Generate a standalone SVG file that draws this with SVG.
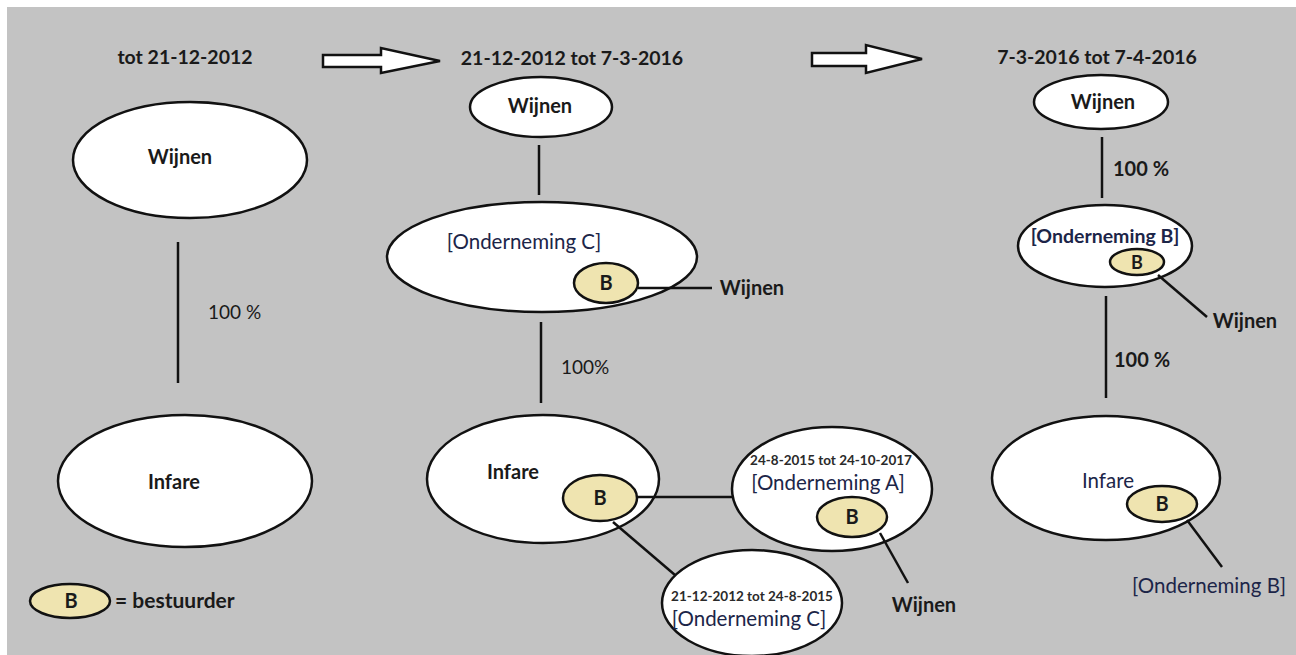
<svg xmlns="http://www.w3.org/2000/svg" width="1296" height="655" viewBox="0 0 1296 655">
<style>
  .bg { fill: #c3c3c3; }
  .node { fill: #ffffff; stroke: #111; stroke-width: 2.5; }
  .b { fill: #efe4b0; stroke: #111; stroke-width: 2.5; }
  .conn line { stroke: #111; stroke-width: 2.5; }
  text { font-family: Lato, "Liberation Sans", sans-serif; fill: #1a1a1a; }
  .t { font-size: 19.5px; font-weight: bold; text-anchor: middle; }
  .lbl { font-size: 20px; font-weight: bold; text-anchor: middle; }
  .reg { font-size: 19px; font-weight: normal; }
  .ond { font-size: 20.5px; fill: #1c2548; text-anchor: middle; }
  .sm { font-size: 13.5px; font-weight: bold; fill: #2a2a2a; text-anchor: middle; }
  .arrow { fill: #ffffff; stroke: #111; stroke-width: 2.5; stroke-linejoin: miter; }
</style>
<rect x="0" y="0" width="1296" height="655" fill="#ffffff"/>
<rect class="bg" x="7" y="7" width="1289" height="648"/>

<g id="arrows">
  <polygon class="arrow" points="323,55 381,55 381,48 440,61 381,73 381,67 323,67"/>
  <polygon class="arrow" points="812,53 866,53 866,45 922,59 866,73 866,66 812,66"/>
</g>

<g id="titles">
  <text class="t" x="185" y="64">tot 21-12-2012</text>
  <text class="t" x="572" y="65">21-12-2012 tot 7-3-2016</text>
  <text class="t" x="1097" y="64">7-3-2016 tot 7-4-2016</text>
</g>

<g id="labels">
  <text class="reg" x="208" y="319">100 %</text>
  <text class="reg" x="561" y="374">100%</text>
  <text class="lbl" x="1141" y="176">100 %</text>
  <text class="lbl" x="1142" y="367">100 %</text>
  <text class="lbl" x="752" y="295">Wijnen</text>
  <text class="lbl" x="1245" y="328">Wijnen</text>
  <text class="lbl" x="924" y="612">Wijnen</text>
  <text class="ond" x="1209" y="593">[Onderneming B]</text>
</g>

<g id="p1-wijnen">
  <ellipse class="node" cx="190" cy="160" rx="117" ry="58"/>
  <text class="lbl" x="180" y="164">Wijnen</text>
</g>
<g id="p1-infare">
  <ellipse class="node" cx="185" cy="481" rx="127" ry="66"/>
  <text class="lbl" x="174" y="489">Infare</text>
</g>
<g id="legend">
  <ellipse class="b" cx="70" cy="601" rx="40" ry="17"/>
  <text class="lbl" x="71" y="608">B</text>
  <text class="lbl" x="115" y="608" style="text-anchor:start;font-size:21px">= bestuurder</text>
</g>

<g id="p2-wijnen">
  <ellipse class="node" cx="541" cy="107" rx="71" ry="30"/>
  <text class="lbl" x="540" y="113">Wijnen</text>
</g>
<g id="p2-ondC">
  <ellipse class="node" cx="542" cy="257" rx="155" ry="55"/>
  <text class="ond" x="524" y="249">[Onderneming C]</text>
</g>
<g id="p2-ondC-b">
  <ellipse class="b" cx="606" cy="283" rx="32" ry="20"/>
  <text class="lbl" x="606" y="290">B</text>
</g>
<g id="p2-infare">
  <ellipse class="node" cx="543" cy="479" rx="116" ry="64"/>
  <text class="lbl" x="513" y="479">Infare</text>
</g>
<g id="p2-infare-b">
  <ellipse class="b" cx="600" cy="498" rx="37" ry="23"/>
  <text class="lbl" x="600" y="505">B</text>
</g>
<g id="p2-ondA">
  <ellipse class="node" cx="832" cy="489" rx="100" ry="62"/>
  <text class="sm" x="831" y="465">24-8-2015 tot 24-10-2017</text>
  <text class="ond" x="828" y="490">[Onderneming A]</text>
</g>
<g id="p2-ondA-b">
  <ellipse class="b" cx="852" cy="517" rx="35" ry="20"/>
  <text class="lbl" x="852" y="524">B</text>
</g>
<g id="p2-ondC2">
  <ellipse class="node" cx="752" cy="603" rx="90" ry="53"/>
  <text class="sm" x="752" y="601">21-12-2012 tot 24-8-2015</text>
  <text class="ond" x="749" y="626">[Onderneming C]</text>
</g>

<g id="p3-wijnen">
  <ellipse class="node" cx="1101" cy="102" rx="67" ry="27"/>
  <text class="lbl" x="1103" y="109">Wijnen</text>
</g>
<g id="p3-ondB">
  <ellipse class="node" cx="1105" cy="246" rx="87" ry="41"/>
  <text class="ond" x="1105" y="243" style="font-weight:bold;font-size:19.5px">[Onderneming B]</text>
</g>
<g id="p3-ondB-b">
  <ellipse class="b" cx="1137" cy="262" rx="27" ry="13"/>
  <text class="lbl" x="1137" y="269" style="font-size:18px">B</text>
</g>
<g id="p3-infare">
  <ellipse class="node" cx="1106" cy="478" rx="114" ry="62"/>
  <text class="ond" x="1108" y="488">Infare</text>
</g>
<g id="p3-infare-b">
  <ellipse class="b" cx="1162" cy="504" rx="35" ry="18"/>
  <text class="lbl" x="1162" y="511">B</text>
</g>

<g id="connectors" class="conn">
  <line x1="178" y1="242" x2="178" y2="383"/>
  <line x1="539" y1="145" x2="539" y2="195"/>
  <line x1="638" y1="288" x2="712" y2="288"/>
  <line x1="541" y1="322" x2="541" y2="403"/>
  <line x1="637" y1="497" x2="733" y2="497"/>
  <line x1="613" y1="522" x2="675" y2="575"/>
  <line x1="880" y1="533" x2="908" y2="583"/>
  <line x1="1102" y1="137" x2="1102" y2="198"/>
  <line x1="1158" y1="275" x2="1207" y2="317"/>
  <line x1="1106" y1="296" x2="1106" y2="398"/>
  <line x1="1187" y1="520" x2="1222" y2="567"/>
</g>
</svg>
